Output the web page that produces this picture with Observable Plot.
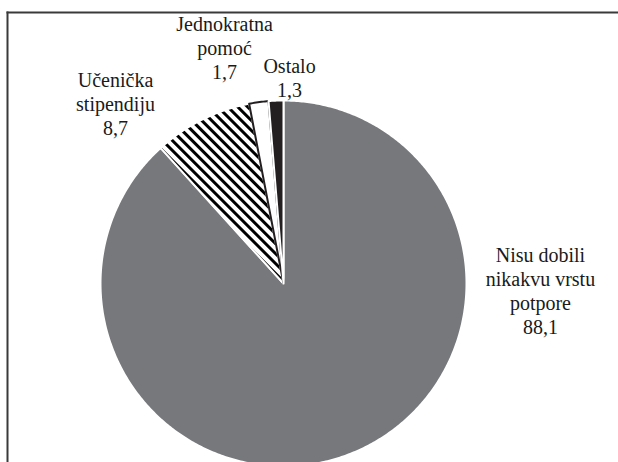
<!DOCTYPE html>
<html>
<head>
<meta charset="utf-8">
<script src="https://cdn.jsdelivr.net/npm/d3@7"></script>
<script src="https://cdn.jsdelivr.net/npm/@observablehq/plot@0.6"></script>
<style>
  html, body { margin: 0; padding: 0; background: #fff; }
  #chart { width: 618px; height: 462px; overflow: hidden; }
</style>
</head>
<body>
<div id="chart"></div>
<script>
// ---- data ----
const categories = ["Nisu dobili nikakvu vrstu potpore", "Učenička stipendiju", "Jednokratna pomoć", "Ostalo"];
const values = [88.1, 8.7, 1.7, 1.3];
const labelLines = ["Nisu dobili\nnikakvu vrstu\npotpore", "Učenička\nstipendiju", "Jednokratna\npomoć", "Ostalo"];
const valueLabels = ["88,1", "8,7", "1,7", "1,3"];

// ---- styling / layout (not data) ----
const sliceFills = ["#77787b", "url(#hatch)", "#ffffff", "#231f20"];
const sliceStrokes = ["#ffffff", "#ffffff", "#231f20", "#ffffff"];
// label anchor positions in units of pie radius, relative to pie centre (y up)
const labelPos = [[1.404, -0.038], [-0.918, 0.984], [-0.322, 1.29], [0.033, 1.126]];

const W = 618, H = 462, mTop = 12, mLeft = 7;
const cx = 283, cy = 283, R = 183;

const pie = d3.pie().sort(null).value(d => d)(values);
const slicePts = [];
pie.forEach((p, i) => {
  const steps = Math.max(4, Math.ceil((p.endAngle - p.startAngle) / 0.01));
  slicePts.push({cat: categories[i], x: 0, y: 0, fill: sliceFills[i], stroke: sliceStrokes[i]});
  for (let k = 0; k <= steps; k++) {
    const a = p.startAngle + (p.endAngle - p.startAngle) * k / steps;
    slicePts.push({cat: categories[i], x: Math.sin(a), y: Math.cos(a), fill: sliceFills[i], stroke: sliceStrokes[i]});
  }
  slicePts.push({cat: categories[i], x: 0, y: 0, fill: sliceFills[i], stroke: sliceStrokes[i]});
});

const labels = categories.map((c, i) => ({
  text: labelLines[i] + "\n" + valueLabels[i],
  x: labelPos[i][0],
  y: labelPos[i][1]
}));

const plot = Plot.plot({
  width: W,
  height: H,
  marginTop: mTop,
  marginLeft: mLeft,
  marginRight: 0,
  marginBottom: 0,
  x: {domain: [(mLeft - cx) / R, (W - cx) / R], axis: null},
  y: {domain: [(cy - H) / R, (cy - mTop) / R], axis: null},
  color: {type: "identity"},
  style: {fontFamily: "'Liberation Serif', serif", background: "#fff", overflow: "hidden"},
  marks: [
    Plot.line(slicePts, {x: "x", y: "y", z: "cat", fill: "fill", stroke: "stroke", strokeWidth: 2, strokeLinejoin: "round", curve: "linear"}),
    Plot.text(labels, {x: "x", y: "y", text: "text", fontSize: 20, lineHeight: 1.2, fill: "#1a1a1a", textAnchor: "middle", lineAnchor: "middle", fontFamily: "'Liberation Serif', serif"}),
    Plot.frame({anchor: "top", stroke: "#3a3a3a", strokeWidth: 2}),
    Plot.frame({anchor: "left", stroke: "#3a3a3a", strokeWidth: 2})
  ]
});

// hatch pattern definition
const ns = "http://www.w3.org/2000/svg";
const defs = document.createElementNS(ns, "defs");
const pat = document.createElementNS(ns, "pattern");
pat.setAttribute("id", "hatch");
pat.setAttribute("patternUnits", "userSpaceOnUse");
pat.setAttribute("width", "7");
pat.setAttribute("height", "7");
pat.setAttribute("patternTransform", "rotate(-45)");
const bg = document.createElementNS(ns, "rect");
bg.setAttribute("width", "7"); bg.setAttribute("height", "7"); bg.setAttribute("fill", "#fff");
const ln = document.createElementNS(ns, "rect");
ln.setAttribute("x", "0"); ln.setAttribute("y", "0"); ln.setAttribute("width", "3"); ln.setAttribute("height", "7"); ln.setAttribute("fill", "#000");
pat.appendChild(bg); pat.appendChild(ln); defs.appendChild(pat);
plot.insertBefore(defs, plot.firstChild);

document.getElementById("chart").appendChild(plot);
</script>
</body>
</html>
